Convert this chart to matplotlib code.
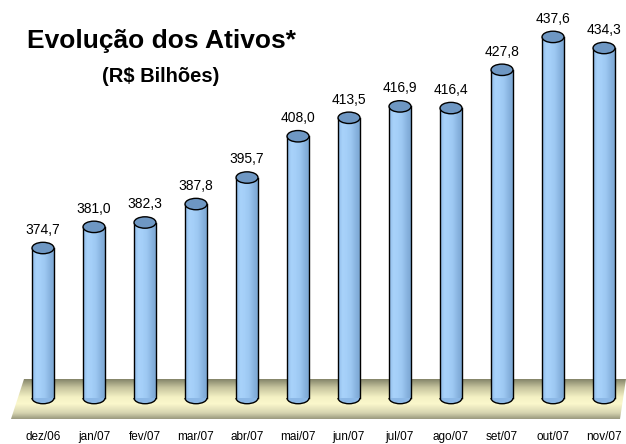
import numpy as np
import matplotlib
matplotlib.use("Agg")
import matplotlib.pyplot as plt
from matplotlib.patches import Ellipse, Polygon, Arc
from matplotlib.colors import LinearSegmentedColormap

months = ["dez/06", "jan/07", "fev/07", "mar/07", "abr/07", "mai/07",
          "jun/07", "jul/07", "ago/07", "set/07", "out/07", "nov/07"]
ativos = [374.7, 381.0, 382.3, 387.8, 395.7, 408.0,
          413.5, 416.9, 416.4, 427.8, 437.6, 434.3]
base = 330.0

plt.rcParams['font.family'] = ['Liberation Sans', 'DejaVu Sans']

fig = plt.figure(figsize=(6.26, 4.44), dpi=100)
ax = fig.add_axes([0, 0, 1, 1])
ax.set_xlim(-0.843, 11.431)
ax.set_ylim(316.3, 448.6)
ax.axis("off")

# px -> data helpers (for floor only)
def px2x(px):
    return -0.843 + px / 626 * (11.431 + 0.843)

def py2y(py):
    return 448.6 - py / 444 * (448.6 - 316.3)

# floor
floor_cmap = LinearSegmentedColormap.from_list(
    "floor", [(0, "#85856a"), (0.2, "#c4c29c"), (0.45, "#f4f1c4"),
              (0.62, "#fbf8cc"), (0.85, "#d6d4b0"), (1, "#9c9b80")])
fl = Polygon([(px2x(24), py2y(379)), (px2x(626), py2y(379)),
              (px2x(620), py2y(419)), (px2x(11), py2y(419))],
             closed=True, facecolor="none", edgecolor="none")
ax.add_patch(fl)
grad = np.linspace(0, 1, 100).reshape(-1, 1)
im = ax.imshow(grad, cmap=floor_cmap, aspect="auto",
               extent=(px2x(11), px2x(626), py2y(419), py2y(379)),
               origin="upper", zorder=1)
im.set_clip_path(fl)
ax.set_xlim(-0.843, 11.431)
ax.set_ylim(316.3, 448.6)

# cylinders
w = 0.43
eh = 3.4
body_cmap = LinearSegmentedColormap.from_list(
    "body", ["#8fbbe9", "#a8d2fa", "#a4cff8", "#9cc7f1", "#8ab5e1", "#7ca7d4"])
hgrad = np.linspace(0, 1, 60).reshape(1, -1)
x = np.arange(len(months))
bars = ax.bar(x, np.array(ativos) - base, bottom=base, width=w,
              color="none", edgecolor="none", zorder=3)
for xi, v, b in zip(x, ativos, bars):
    bim = ax.imshow(hgrad, cmap=body_cmap, aspect="auto",
                    extent=(xi - w / 2, xi + w / 2, base, v), zorder=3)
    bim.set_clip_path(b)
    # bottom half ellipse
    be = Ellipse((xi, base), w, eh, facecolor="#8cb8e6", edgecolor="none", zorder=2.9)
    ax.add_patch(be)
    ax.add_patch(Arc((xi, base), w, eh, theta1=180, theta2=360,
                     color="black", lw=1.0, zorder=4))
    ax.plot([xi - w / 2, xi - w / 2], [base, v], color="black", lw=1.0, zorder=4)
    ax.plot([xi + w / 2, xi + w / 2], [base, v], color="black", lw=1.0, zorder=4)
    ax.add_patch(Ellipse((xi, v), w, eh, angle=0, facecolor="#6e97c3",
                         edgecolor="black", lw=1.0, zorder=5))
    ax.text(xi, v + 5.4, f"{v:.1f}".replace(".", ","), ha="center", va="center",
            fontsize=10, color="black", zorder=6)

ax.set_xlim(-0.843, 11.431)
ax.set_ylim(316.3, 448.6)

for xi, m in zip(x, months):
    fig.text((43 + 51 * xi) / 626, 1 - 440 / 444, m, ha="center", va="baseline",
             fontsize=8.5)

fig.text(162 / 626, 1 - 48 / 444, "Evolução dos Ativos*", ha="center",
         va="baseline", fontsize=19, fontweight="bold")
fig.text(161 / 626, 1 - 82 / 444, "(R$ Bilhões)", ha="center",
         va="baseline", fontsize=14.5, fontweight="bold")

fig.savefig("out.png", dpi=100)
